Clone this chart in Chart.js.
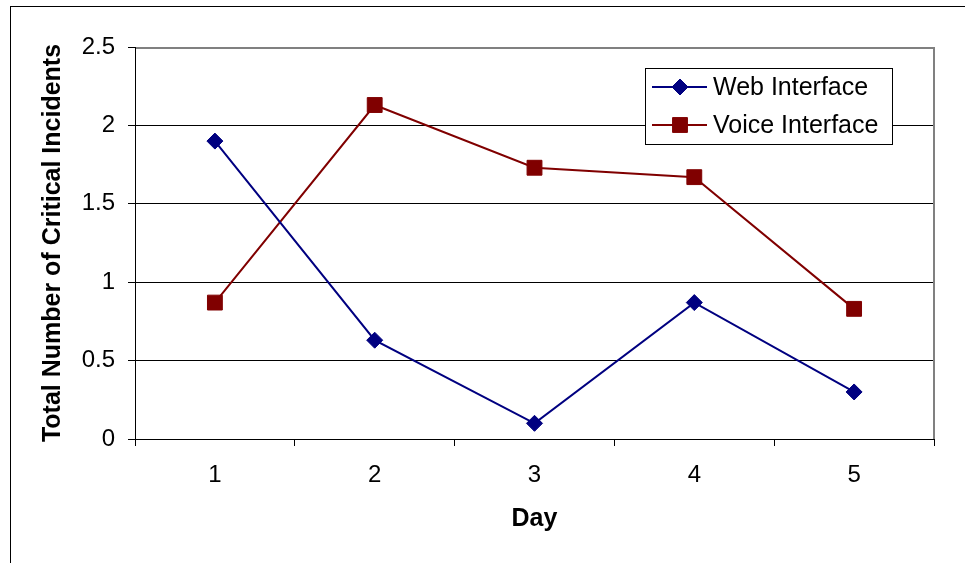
<!DOCTYPE html>
<html><head><meta charset="utf-8">
<script src="https://cdn.jsdelivr.net/npm/chart.js@4"></script>
<style>html,body{margin:0;padding:0;background:#fff;overflow:hidden;}</style>
</head><body>
<canvas id="c" width="965" height="563"></canvas>
<script>
const days = ['1', '2', '3', '4', '5'];
const webInterface = [1.9, 0.63, 0.1, 0.87, 0.3];
const voiceInterface = [0.87, 2.13, 1.73, 1.67, 0.83];
const yMin = 0, yMax = 2.5, yStep = 0.5;
const seriesNames = ['Web Interface', 'Voice Interface'];
const xTitle = 'Day';
const yTitle = 'Total Number of Critical Incidents';

const FONT = "'Liberation Sans', Arial, sans-serif";

const framePlugin = {
  id: 'frame',
  beforeDraw(chart) {
    const ctx = chart.ctx;
    ctx.save();
    ctx.fillStyle = '#fff';
    ctx.fillRect(0, 0, chart.width, chart.height);
    ctx.strokeStyle = '#000';
    ctx.lineWidth = 1;
    ctx.strokeRect(10.5, 6.5, chart.width + 20, chart.height + 20);
    ctx.restore();
  },
  beforeDatasetsDraw(chart) {
    const a = chart.chartArea, ctx = chart.ctx;
    ctx.save();
    ctx.strokeStyle = '#808080';
    ctx.lineWidth = 2;
    ctx.beginPath();
    ctx.moveTo(a.left + 1, a.top + 1);
    ctx.lineTo(a.right, a.top + 1);
    ctx.lineTo(a.right, a.bottom);
    ctx.stroke();
    ctx.restore();
  }
};

const legendPlugin = {
  id: 'boxLegend',
  afterDraw(chart) {
    const ctx = chart.ctx;
    ctx.save();
    ctx.fillStyle = '#fff';
    ctx.fillRect(645.5, 68.5, 247, 76);
    ctx.strokeStyle = '#000';
    ctx.lineWidth = 1;
    ctx.strokeRect(645.5, 68.5, 247, 76);
    chart.data.datasets.forEach((ds, i) => {
      const cy = 87 + i * 38;
      ctx.strokeStyle = ds.borderColor;
      ctx.lineWidth = ds.borderWidth;
      ctx.beginPath();
      ctx.moveTo(652, cy);
      ctx.lineTo(707, cy);
      ctx.stroke();
      ctx.fillStyle = ds.pointBackgroundColor;
      ctx.strokeStyle = ds.pointBorderColor;
      ctx.lineWidth = ds.pointBorderWidth;
      Chart.helpers.drawPoint(ctx, {pointStyle: ds.pointStyle, radius: ds.pointRadius, borderWidth: ds.pointBorderWidth, rotation: 0}, 680, cy);
      ctx.fillStyle = '#000';
      ctx.font = '25px ' + FONT;
      ctx.textBaseline = 'middle';
      ctx.textAlign = 'left';
      ctx.fillText(ds.label, 713, cy + 1);
    });
    ctx.restore();
  }
};

new Chart(document.getElementById('c'), {
  type: 'line',
  data: {
    labels: days,
    datasets: [
      {
        label: seriesNames[0],
        data: webInterface,
        borderColor: '#000080',
        backgroundColor: '#000080',
        pointBackgroundColor: '#000080',
        pointBorderColor: '#000080',
        borderWidth: 2,
        pointStyle: 'rectRot',
        pointRadius: 8,
        pointBorderWidth: 1,
        tension: 0,
        fill: false
      },
      {
        label: seriesNames[1],
        data: voiceInterface,
        borderColor: '#800000',
        backgroundColor: '#800000',
        pointBackgroundColor: '#800000',
        pointBorderColor: '#800000',
        borderWidth: 2,
        pointStyle: 'rect',
        pointRadius: 10.5,
        pointBorderWidth: 1,
        tension: 0,
        fill: false
      }
    ]
  },
  options: {
    responsive: false,
    animation: false,
    devicePixelRatio: 1,
    events: [],
    layout: { padding: { left: 0, top: 47, right: 31, bottom: 0 } },
    plugins: { legend: { display: false }, tooltip: { enabled: false } },
    scales: {
      x: {
        type: 'category',
        offset: true,
        afterFit(s) { s.height = 124; },
        grid: { offset: true, drawOnChartArea: false, drawTicks: true, tickLength: 7, color: '#000', tickColor: '#000', lineWidth: 1 },
        border: { display: true, color: '#000', width: 1 },
        ticks: { color: '#000', font: { family: FONT, size: 24 }, padding: 15, maxRotation: 0 },
        title: { display: true, text: xTitle, color: '#000', font: { family: FONT, size: 25, weight: 'bold' }, padding: { top: 0, bottom: 29 } }
      },
      y: {
        min: yMin,
        max: yMax,
        afterFit(s) { s.width = 135; },
        grid: { color: '#000', tickColor: '#000', tickLength: 7, lineWidth: 1 },
        border: { display: true, color: '#000', width: 1 },
        ticks: { stepSize: yStep, color: '#000', font: { family: FONT, size: 24 }, padding: 13, callback: (v) => String(v) },
        title: { display: true, text: yTitle, color: '#000', font: { family: FONT, size: 25, weight: 'bold' }, padding: { top: 38, bottom: 0 } }
      }
    }
  },
  plugins: [framePlugin, legendPlugin]
});
</script>
</body></html>
